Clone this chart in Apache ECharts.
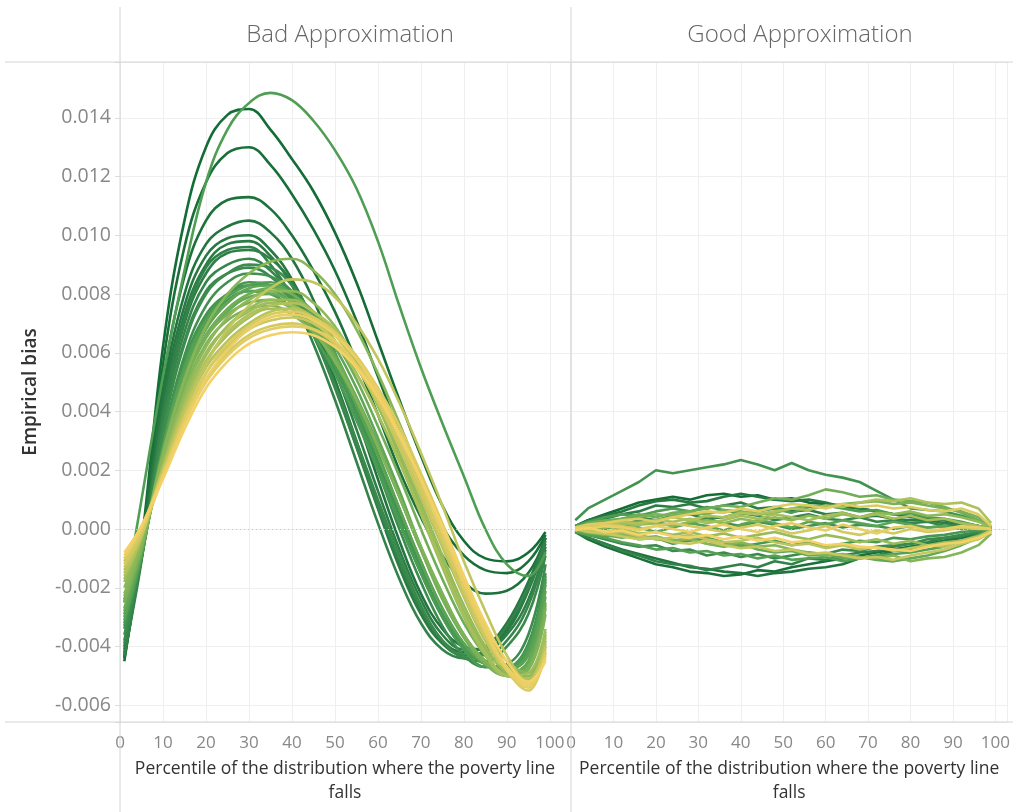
<!DOCTYPE html>
<html>
<head>
<meta charset="utf-8">
<script src="https://cdn.jsdelivr.net/npm/echarts@6/dist/echarts.min.js"></script>
<style>
  html, body { margin: 0; padding: 0; background: #fff; }
  #chart { width: 1013px; height: 812px; }
</style>
</head>
<body>
<div id="chart"></div>
<script>
// values are in thousandths (the axis labels divide by 1000)
const panelTitles = ["Bad Approximation", "Good Approximation"];
const xTitle = "Percentile of the distribution where the poverty line\nfalls";
const yTitle = "Empirical bias";

const badX = [1, 5, 10, 15, 20, 25, 30, 35, 40, 45, 50, 55, 60, 65, 70, 75, 80, 85, 90, 95, 99];
// ordered dark green -> gold
const badLines = [
  [-4.5, -0.5, 6.2, 10.5, 13.0, 14.1, 14.3, 13.6, 12.6, 11.5, 10.1, 8.4, 6.4, 4.4, 2.5, 0.8, -0.4, -1.0, -1.1, -0.8, -0.1],
  [-4.4, -0.6, 5.6, 9.6, 11.8, 12.8, 13.0, 12.4, 11.4, 10.2, 8.8, 7.1, 5.2, 3.3, 1.6, 0.1, -0.9, -1.4, -1.5, -1.1, -0.2],
  [-4.3, -0.7, 5.0, 8.6, 10.5, 11.2, 11.3, 10.9, 10.0, 8.8, 7.4, 5.7, 3.9, 2.0, 0.4, -0.9, -1.8, -2.2, -2.1, -1.5, -0.3],
  [-4.4, -0.8, 4.6, 8.0, 9.7, 10.3, 10.5, 10.1, 9.2, 7.8, 6.0, 3.9, 1.7, -0.4, -2.2, -3.4, -4.0, -4.1, -3.4, -2.0, -0.3],
  [-4.2, -0.9, 4.3, 7.6, 9.3, 9.9, 10.0, 9.5, 8.5, 7.0, 5.1, 3.0, 0.8, -1.2, -2.8, -3.8, -4.2, -4.0, -3.2, -1.8, -0.3],
  [-4.1, -1.0, 4.0, 7.3, 9.0, 9.7, 9.8, 9.3, 8.3, 6.8, 4.9, 2.8, 0.7, -1.3, -2.9, -3.9, -4.3, -4.2, -3.5, -2.1, -0.5],
  [-4.0, -1.0, 3.8, 7.0, 8.7, 9.4, 9.5, 9.2, 8.4, 7.1, 5.4, 3.4, 1.3, -0.7, -2.4, -3.6, -4.1, -4.1, -3.6, -2.4, -0.6],
  [-4.3, -1.1, 3.9, 7.1, 8.9, 9.5, 9.6, 9.0, 7.9, 6.3, 4.4, 2.3, 0.2, -1.7, -3.2, -4.1, -4.4, -4.1, -3.3, -2.0, -0.4],
  [-3.9, -1.0, 3.6, 6.7, 8.4, 9.0, 9.2, 8.8, 7.9, 6.6, 4.8, 2.8, 0.8, -1.1, -2.7, -3.8, -4.3, -4.3, -3.8, -2.6, -0.7],
  [-3.8, -0.9, 3.4, 6.4, 8.1, 8.7, 8.9, 8.6, 7.8, 6.6, 4.9, 3.0, 1.0, -0.9, -2.6, -3.8, -4.4, -4.5, -4.0, -2.9, -0.9],
  [-3.6, -1.0, 3.3, 6.3, 8.0, 8.7, 9.0, 8.9, 8.3, 7.2, 5.7, 3.9, 2.0, 0.0, -1.8, -3.3, -4.3, -4.7, -4.6, -3.6, -1.2],
  [-3.4, -1.0, 3.0, 5.9, 7.6, 8.4, 8.7, 8.6, 8.1, 7.1, 5.7, 4.0, 2.2, 0.3, -1.5, -3.0, -4.1, -4.7, -4.7, -3.9, -1.5],
  [-3.3, -0.9, 2.9, 5.7, 7.3, 8.0, 8.3, 8.3, 7.9, 7.0, 5.7, 4.1, 2.3, 0.5, -1.3, -2.9, -4.0, -4.6, -4.7, -4.0, -1.7],
  [-3.2, -0.9, 2.8, 5.6, 7.2, 8.0, 8.4, 8.3, 7.8, 6.9, 5.5, 3.9, 2.1, 0.3, -1.4, -2.9, -4.0, -4.6, -4.7, -4.1, -1.6],
  [-2.9, -0.8, 2.7, 5.4, 7.0, 7.8, 8.1, 8.0, 7.5, 6.6, 5.3, 3.7, 2.0, 0.2, -1.5, -3.0, -4.1, -4.7, -4.7, -4.0, -1.8],
  [-2.5, 1.0, 5.2, 8.8, 11.8, 13.6, 14.5, 14.85, 14.6, 13.9, 12.9, 11.6, 9.8, 7.6, 5.5, 3.6, 1.8, 0.0, -1.2, -1.6, -0.8],
  [-3.1, -0.9, 2.8, 5.5, 7.1, 7.9, 8.3, 8.4, 8.0, 7.2, 6.0, 4.4, 2.6, 0.7, -1.1, -2.7, -3.9, -4.6, -4.8, -4.2, -1.9],
  [-3.0, -0.8, 2.7, 5.3, 6.9, 7.7, 8.1, 8.1, 7.7, 6.9, 5.7, 4.2, 2.5, 0.7, -1.1, -2.7, -3.9, -4.6, -4.8, -4.3, -2.1],
  [-2.8, -0.8, 2.6, 5.2, 6.8, 7.7, 8.2, 8.3, 8.0, 7.3, 6.2, 4.8, 3.1, 1.3, -0.6, -2.2, -3.6, -4.5, -4.9, -4.5, -2.3],
  [-2.7, -0.7, 2.5, 5.0, 6.6, 7.4, 7.9, 8.0, 7.7, 7.0, 5.9, 4.5, 2.9, 1.1, -0.7, -2.3, -3.6, -4.5, -4.9, -4.6, -2.5],
  [-2.4, -0.6, 2.5, 5.0, 6.6, 7.5, 8.0, 8.2, 8.0, 7.4, 6.4, 5.1, 3.5, 1.8, 0.0, -1.7, -3.2, -4.3, -4.9, -4.7, -2.6],
  [-2.5, -0.7, 2.4, 4.9, 6.5, 7.3, 7.7, 7.8, 7.5, 6.8, 5.8, 4.4, 2.8, 1.1, -0.7, -2.4, -3.7, -4.6, -5.0, -4.7, -2.7],
  [-2.3, -0.6, 2.3, 4.7, 6.3, 7.1, 7.5, 7.6, 7.3, 6.7, 5.7, 4.4, 2.8, 1.1, -0.6, -2.2, -3.6, -4.5, -5.0, -4.8, -2.9],
  [-2.2, -0.5, 2.6, 5.1, 6.9, 8.0, 8.7, 9.1, 9.2, 8.8, 8.0, 6.8, 5.3, 3.6, 1.8, 0.0, -1.8, -3.3, -4.5, -4.9, -3.5],
  [-2.0, -0.4, 2.3, 4.6, 6.2, 7.2, 7.8, 8.1, 8.1, 7.7, 6.9, 5.7, 4.2, 2.5, 0.7, -1.1, -2.8, -4.1, -5.0, -5.0, -3.6],
  [-1.8, -0.3, 2.2, 4.4, 6.0, 6.9, 7.5, 7.8, 7.8, 7.4, 6.7, 5.6, 4.2, 2.6, 0.9, -0.9, -2.6, -4.0, -4.9, -5.1, -3.8],
  [-1.7, -0.3, 2.1, 4.3, 5.9, 6.9, 7.4, 7.7, 7.6, 7.2, 6.4, 5.3, 3.9, 2.3, 0.5, -1.3, -3.0, -4.3, -5.0, -4.9, -3.4],
  [-1.4, -0.2, 2.0, 4.1, 5.7, 6.6, 7.2, 7.5, 7.5, 7.1, 6.4, 5.3, 3.9, 2.3, 0.6, -1.2, -2.9, -4.2, -5.0, -5.1, -3.7],
  [-1.6, -0.3, 2.1, 4.2, 5.7, 6.7, 7.3, 7.6, 7.7, 7.4, 6.8, 5.8, 4.5, 2.9, 1.2, -0.6, -2.3, -3.8, -4.8, -5.1, -3.9],
  [-1.5, -0.2, 2.0, 4.0, 5.5, 6.4, 7.0, 7.4, 7.5, 7.2, 6.6, 5.6, 4.3, 2.8, 1.1, -0.6, -2.3, -3.8, -4.8, -5.2, -4.0],
  [-1.1, 0.0, 2.0, 4.0, 5.6, 6.8, 7.6, 8.2, 8.5, 8.4, 7.9, 7.0, 5.8, 4.3, 2.6, 0.8, -1.1, -2.8, -4.3, -5.2, -4.0],
  [-1.3, -0.2, 1.9, 3.8, 5.3, 6.2, 6.8, 7.1, 7.2, 7.0, 6.4, 5.5, 4.3, 2.8, 1.2, -0.5, -2.2, -3.7, -4.8, -5.2, -4.1],
  [-1.2, -0.1, 1.8, 3.7, 5.1, 6.0, 6.6, 6.9, 7.0, 6.8, 6.3, 5.5, 4.4, 3.0, 1.4, -0.3, -2.0, -3.6, -4.7, -5.3, -4.2],
  [-1.0, 0.0, 1.9, 3.8, 5.3, 6.3, 6.9, 7.3, 7.4, 7.2, 6.7, 5.9, 4.8, 3.5, 1.9, 0.2, -1.6, -3.3, -4.8, -5.5, -4.2],
  [-1.0, 0.0, 1.8, 3.6, 5.0, 5.9, 6.5, 6.8, 6.9, 6.8, 6.4, 5.6, 4.6, 3.2, 1.6, -0.1, -1.9, -3.5, -4.8, -5.4, -4.3],
  [-0.9, 0.1, 1.8, 3.6, 5.1, 6.1, 6.8, 7.2, 7.3, 7.1, 6.6, 5.8, 4.7, 3.3, 1.7, 0.0, -1.8, -3.4, -4.7, -5.3, -4.4],
  [-0.8, 0.1, 1.7, 3.4, 4.8, 5.7, 6.3, 6.6, 6.7, 6.6, 6.2, 5.5, 4.5, 3.2, 1.7, 0.1, -1.6, -3.2, -4.5, -5.2, -4.5]
];

const goodX = [1, 4, 8, 12, 16, 20, 24, 28, 32, 36, 40, 44, 48, 52, 56, 60, 64, 68, 72, 76, 80, 84, 88, 92, 96, 99];
const goodLines = [
  [0.1, 0.3, 0.5, 0.7, 0.9, 1.0, 1.1, 1.0, 1.15, 1.2, 1.1, 1.15, 1.0, 1.05, 0.9, 0.85, 0.8, 0.7, 0.6, 0.5, 0.45, 0.4, 0.3, 0.2, 0.1, 0.0],
  [-0.1, -0.35, -0.6, -0.8, -1.0, -1.2, -1.3, -1.45, -1.5, -1.6, -1.55, -1.4, -1.45, -1.3, -1.2, -1.1, -1.0, -0.9, -0.8, -0.7, -0.6, -0.5, -0.4, -0.3, -0.15, 0.0],
  [-0.05, -0.3, -0.5, -0.7, -0.85, -1.0, -1.15, -1.3, -1.35, -1.45, -1.5, -1.6, -1.5, -1.45, -1.35, -1.3, -1.2, -1.0, -0.9, -0.75, -0.7, -0.55, -0.4, -0.3, -0.15, 0.0],
  [0.1, 0.3, 0.45, 0.6, 0.8, 0.95, 1.0, 0.9, 0.95, 1.1, 1.2, 1.1, 1.0, 0.95, 1.0, 0.9, 0.75, 0.7, 0.6, 0.5, 0.4, 0.35, 0.3, 0.2, 0.1, 0.0],
  [0.05, 0.2, 0.35, 0.5, 0.6, 0.8, 0.75, 0.85, 0.7, 0.8, 0.9, 0.7, 0.75, 0.6, 0.65, 0.5, 0.55, 0.4, 0.45, 0.35, 0.3, 0.3, 0.2, 0.15, 0.1, 0.0],
  [-0.1, -0.3, -0.5, -0.75, -0.9, -1.1, -1.2, -1.25, -1.4, -1.3, -1.2, -1.3, -1.1, -1.2, -1.0, -1.05, -0.9, -0.8, -0.75, -0.6, -0.5, -0.45, -0.3, -0.25, -0.1, 0.0],
  [0.0, 0.15, 0.2, 0.35, 0.4, 0.3, 0.45, 0.5, 0.35, 0.4, 0.55, 0.45, 0.3, 0.4, 0.5, 0.35, 0.3, 0.4, 0.25, 0.3, 0.2, 0.25, 0.1, 0.15, 0.05, 0.0],
  [-0.05, -0.2, -0.35, -0.5, -0.6, -0.55, -0.75, -0.7, -0.9, -0.8, -0.95, -0.85, -1.0, -0.9, -0.8, -0.85, -0.7, -0.75, -0.6, -0.55, -0.5, -0.35, -0.3, -0.2, -0.1, 0.0],
  [0.05, 0.1, 0.2, 0.15, 0.3, 0.25, 0.1, 0.2, 0.35, 0.2, 0.1, 0.25, 0.15, 0.0, 0.1, 0.2, 0.05, 0.15, 0.1, 0.0, 0.1, 0.05, 0.1, 0.0, 0.05, 0.0],
  [0.3, 0.7, 1.0, 1.3, 1.6, 2.0, 1.9, 2.0, 2.1, 2.2, 2.35, 2.2, 2.0, 2.25, 2.0, 1.85, 1.75, 1.6, 1.3, 1.0, 0.7, 0.65, 0.6, 0.45, 0.3, 0.05],
  [-0.05, -0.1, -0.25, -0.2, -0.35, -0.3, -0.5, -0.4, -0.3, -0.45, -0.6, -0.5, -0.4, -0.55, -0.45, -0.6, -0.5, -0.4, -0.45, -0.3, -0.35, -0.25, -0.2, -0.1, -0.05, 0.0],
  [0.1, 0.25, 0.4, 0.5, 0.45, 0.6, 0.7, 0.6, 0.75, 0.65, 0.5, 0.6, 0.7, 0.55, 0.75, 0.8, 0.7, 0.6, 0.65, 0.5, 0.55, 0.4, 0.35, 0.25, 0.1, 0.0],
  [-0.1, -0.2, -0.3, -0.45, -0.55, -0.7, -0.65, -0.8, -0.75, -0.9, -0.85, -1.0, -0.9, -1.05, -1.0, -0.95, -1.1, -1.0, -0.9, -0.85, -0.8, -0.7, -0.6, -0.4, -0.2, 0.0],
  [0.0, 0.1, 0.0, 0.15, 0.05, -0.1, 0.05, 0.2, 0.1, -0.05, 0.15, 0.3, 0.2, 0.05, 0.25, 0.15, 0.3, 0.2, 0.1, 0.25, 0.15, 0.05, 0.1, 0.0, 0.05, 0.0],
  [-0.05, -0.15, -0.2, -0.3, -0.2, -0.35, -0.4, -0.3, -0.5, -0.6, -0.5, -0.7, -0.8, -0.75, -0.9, -0.85, -1.0, -0.95, -1.05, -1.1, -1.0, -0.9, -0.75, -0.55, -0.3, 0.0],
  [0.05, 0.2, 0.3, 0.35, 0.5, 0.4, 0.55, 0.6, 0.7, 0.8, 0.75, 0.9, 1.05, 1.0, 1.15, 1.35, 1.25, 1.1, 1.15, 1.0, 0.95, 0.9, 0.75, 0.55, 0.3, 0.05],
  [0.05, 0.15, 0.25, 0.3, 0.4, 0.5, 0.45, 0.55, 0.5, 0.65, 0.6, 0.5, 0.55, 0.7, 0.8, 0.75, 0.85, 0.9, 0.95, 0.85, 0.9, 0.8, 0.7, 0.6, 0.4, 0.1],
  [0.0, -0.1, -0.2, -0.15, -0.3, -0.25, -0.4, -0.35, -0.5, -0.55, -0.45, -0.6, -0.55, -0.7, -0.8, -0.9, -0.85, -0.95, -1.0, -0.9, -1.1, -1.0, -0.95, -0.8, -0.55, -0.15],
  [0.0, 0.05, 0.1, 0.0, 0.15, 0.2, 0.1, 0.25, 0.3, 0.2, 0.35, 0.25, 0.4, 0.3, 0.45, 0.35, 0.5, 0.4, 0.55, 0.5, 0.6, 0.45, 0.5, 0.4, 0.25, 0.05],
  [0.0, -0.05, -0.1, 0.0, -0.15, -0.1, -0.2, -0.1, -0.25, -0.15, -0.3, -0.2, -0.1, -0.25, -0.35, -0.2, -0.3, -0.45, -0.35, -0.5, -0.4, -0.55, -0.45, -0.4, -0.3, -0.1],
  [0.0, 0.1, 0.05, 0.2, 0.15, 0.3, 0.25, 0.35, 0.2, 0.3, 0.45, 0.35, 0.5, 0.4, 0.3, 0.45, 0.55, 0.4, 0.5, 0.35, 0.45, 0.3, 0.35, 0.2, 0.1, 0.0],
  [0.0, 0.1, 0.15, 0.25, 0.2, 0.3, 0.4, 0.3, 0.45, 0.4, 0.55, 0.5, 0.6, 0.7, 0.65, 0.8, 0.75, 0.9, 1.0, 0.95, 1.05, 0.9, 0.85, 0.9, 0.7, 0.2],
  [0.0, -0.05, -0.15, -0.1, -0.25, -0.35, -0.3, -0.2, -0.35, -0.45, -0.4, -0.3, -0.45, -0.55, -0.5, -0.65, -0.55, -0.7, -0.6, -0.75, -0.65, -0.55, -0.6, -0.4, -0.25, -0.05],
  [0.0, -0.1, -0.15, -0.25, -0.35, -0.3, -0.45, -0.5, -0.4, -0.55, -0.65, -0.6, -0.75, -0.7, -0.85, -0.8, -0.9, -1.0, -0.95, -1.05, -0.9, -0.8, -0.7, -0.5, -0.35, -0.1],
  [0.0, 0.05, 0.15, 0.1, 0.0, 0.1, 0.2, 0.1, 0.0, -0.1, 0.05, 0.15, 0.0, -0.15, -0.05, 0.1, -0.1, -0.2, -0.05, -0.15, 0.0, -0.1, -0.05, 0.05, 0.0, 0.0],
  [0.05, 0.15, 0.2, 0.3, 0.35, 0.25, 0.4, 0.5, 0.6, 0.55, 0.7, 0.6, 0.75, 0.85, 0.8, 0.7, 0.85, 0.75, 0.8, 0.7, 0.75, 0.65, 0.6, 0.7, 0.5, 0.1],
  [0.05, 0.0, 0.1, 0.05, -0.05, 0.1, 0.0, -0.1, 0.05, 0.15, 0.0, -0.1, 0.1, 0.2, 0.05, -0.05, 0.15, 0.0, -0.15, 0.05, 0.1, -0.05, 0.0, 0.1, 0.05, 0.0],
  [-0.05, 0.05, -0.1, -0.05, -0.2, -0.1, -0.25, -0.3, -0.2, -0.35, -0.25, -0.4, -0.3, -0.45, -0.4, -0.55, -0.5, -0.6, -0.65, -0.7, -0.75, -0.6, -0.5, -0.45, -0.3, -0.1]
];

// Tableau green-gold, dark to light
const palette = ["#146c36", "#257740", "#33834a", "#3f8f4f", "#4b9c53", "#60a656",
  "#7cb257", "#98bb59", "#b6c35c", "#d5ca60", "#f4d166"];

function hexToRgb(h) {
  return [1, 3, 5].map(i => parseInt(h.substr(i, 2), 16));
}
function rampColor(t) {
  const p = t * (palette.length - 1);
  const i = Math.min(Math.floor(p), palette.length - 2);
  const f = p - i;
  const a = hexToRgb(palette[i]), b = hexToRgb(palette[i + 1]);
  const c = a.map((v, k) => Math.round(v + (b[k] - v) * f));
  return "rgb(" + c.join(",") + ")";
}

const font = "'Open Sans', 'Noto Sans', sans-serif";
const gridColor = "#efefef";
const borderColor = "#d4d4d4";

function lineSeries(xs, lines, gi, smooth) {
  return lines.map((vals, k) => ({
    type: "line",
    xAxisIndex: gi,
    yAxisIndex: gi,
    data: xs.map((x, i) => [x, vals[i]]),
    showSymbol: false,
    smooth: smooth,
    silent: true,
    lineStyle: { width: 2.6, color: rampColor(k / (lines.length - 1)) },
    markLine: k === 0 ? {
      silent: true,
      symbol: "none",
      label: { show: false },
      lineStyle: { color: "#c4c4c4", type: [1, 3], width: 1 },
      data: [{ yAxis: 0 }]
    } : undefined
  }));
}

function xAxis(gi, max) {
  return {
    type: "value", gridIndex: gi, min: 0, max: max, interval: 10,
    name: xTitle, nameLocation: "middle", nameGap: 35,
    nameTextStyle: { fontFamily: font, fontSize: 17.5, color: "#333", lineHeight: 24 },
    axisLine: { show: false }, axisTick: { show: false },
    axisLabel: {
      fontFamily: font, fontSize: 17, color: "#888", margin: 13,
      formatter: v => (v % 10 === 0 ? String(v) : "")
    },
    splitLine: { show: true, lineStyle: { color: gridColor, width: 1 } }
  };
}

function yAxis(gi) {
  return {
    type: "value", gridIndex: gi, min: -6.57, max: 15.9, splitNumber: 11,
    name: gi === 0 ? yTitle : "", nameLocation: "middle", nameGap: 80,
    nameTextStyle: { fontFamily: font, fontSize: 19, color: "#333", fontWeight: 600 },
    axisLine: { show: false },
    axisTick: { show: gi === 0, length: 5, lineStyle: { color: "#ddd" } },
    axisLabel: {
      show: gi === 0, fontFamily: font, fontSize: 19.5, color: "#888", margin: 9,
      formatter: v => (Math.abs(v / 2 - Math.round(v / 2)) < 1e-6 ? (v / 1000).toFixed(3) : "")
    },
    splitLine: { show: true, lineStyle: { color: gridColor, width: 1 } }
  };
}

const chart = echarts.init(document.getElementById("chart"), null, { renderer: "canvas" });

const option = {
  animation: false,
  backgroundColor: "#fff",
  title: [
    { text: panelTitles[0], left: 345, top: 18, textAlign: "center",
      textStyle: { fontFamily: font, fontSize: 24, fontWeight: 300, color: "#666" } },
    { text: panelTitles[1], left: 795, top: 18, textAlign: "center",
      textStyle: { fontFamily: font, fontSize: 24, fontWeight: 300, color: "#666" } }
  ],
  grid: [
    { left: 120, width: 450, top: 62, height: 660 },
    { left: 571, width: 442, top: 62, height: 660 }
  ],
  xAxis: [xAxis(0, 104.7), xAxis(1, 102.8)],
  yAxis: [yAxis(0), yAxis(1)],
  graphic: [
    { type: "line", shape: { x1: 120, y1: 7, x2: 120, y2: 812 }, style: { stroke: borderColor, lineWidth: 1 }, z: 10 },
    { type: "line", shape: { x1: 571, y1: 7, x2: 571, y2: 812 }, style: { stroke: borderColor, lineWidth: 1 }, z: 10 },
    { type: "line", shape: { x1: 5, y1: 62, x2: 1013, y2: 62 }, style: { stroke: borderColor, lineWidth: 1 }, z: 10 },
    { type: "line", shape: { x1: 5, y1: 722, x2: 1013, y2: 722 }, style: { stroke: borderColor, lineWidth: 1 }, z: 10 }
  ],
  series: [].concat(
    lineSeries(badX, badLines, 0, 0.4),
    lineSeries(goodX, goodLines, 1, false)
  )
};

chart.setOption(option);
</script>
</body>
</html>
